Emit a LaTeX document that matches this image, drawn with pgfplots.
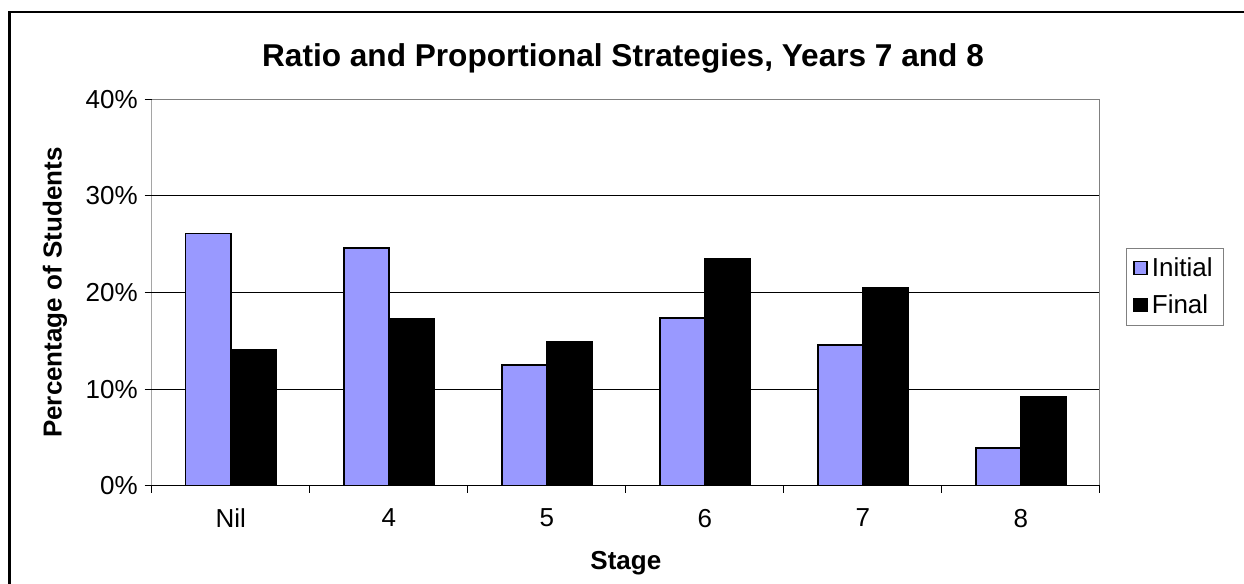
\documentclass[border=0pt]{standalone}
\usepackage{fontspec}
\setmainfont{Liberation Sans}
\usepackage{pgfplots}
\pgfplotsset{compat=1.18}

\definecolor{initialblue}{RGB}{153,153,255}
\definecolor{framegray}{RGB}{128,128,128}

% Stage reached by students, as a percentage of the cohort
\pgfplotstableread{
pos initial final
0   26.1    14.1
1   24.6    17.3
2   12.5    14.9
3   17.4    23.5
4   14.6    20.5
5    3.9     9.2
}\stagedata

\begin{document}
\begin{tikzpicture}
\useasboundingbox (0,0) rectangle (622pt,292pt);
% outer chart frame
\draw[line width=1.4pt] (4.75pt,0pt) -- (4.75pt,286pt) -- (622pt,286pt);
\node[font=\bfseries\fontsize{15.8}{18}\selectfont] at (311.5pt,263pt)
  {Ratio and Proportional Strategies, Years 7 and 8};
\begin{axis}[
  at={(75.85pt,49pt)}, anchor=south west,
  scale only axis, width=474.15pt, height=193.35pt,
  ymin=0, ymax=40, ytick={0,10,20,30,40},
  yticklabel={\pgfmathprintnumber{\tick}\%},
  xmin=-0.5, xmax=5.5,
  xtick={0,1,2,3,4,5}, xticklabels={Nil,4,5,6,7,8},
  major x tick style={draw=none},
  minor xtick={-0.5,0.5,1.5,2.5,3.5,4.5,5.5},
  tick align=outside, xtick pos=left, ytick pos=left,
  major tick length=3.5pt, minor tick length=3.5pt,
  tick style={black, line width=0.5pt},
  ymajorgrids, grid style={black, line width=0.5pt},
  axis line style={draw=none},
  ybar=0pt, bar width=0.285,
  /pgf/number format/assume math mode=true,
  ticklabel style={font=\fontsize{13}{15}\selectfont},
  xticklabel style={yshift=-4.5pt},
  xlabel={Stage}, ylabel={Percentage of Students},
  label style={font=\bfseries\fontsize{13}{15}\selectfont},
  xlabel style={at={(axis description cs:0.5,-0.2)}, anchor=center},
  ylabel style={at={(axis description cs:-0.102,0.5)}, anchor=center},
  legend style={at={(1.0274,0.6155)}, anchor=north west, draw=framegray,
    line width=0.5pt, font=\fontsize{13}{15}\selectfont,
    inner xsep=3.5pt, inner ysep=2.5pt, row sep=3.5pt},
  legend cell align=left,
  legend image code/.code={\draw[#1, line width=0.7pt] (0pt,-3pt) rectangle (6.5pt,3.5pt);},
]
\addplot[fill=initialblue, draw=black, line width=0.8pt] table[x=pos, y=initial] {\stagedata};
\addplot[fill=black, draw=black, line width=0.8pt] table[x=pos, y=final] {\stagedata};
\legend{Initial, Final}
\draw[framegray, line width=0.6pt] (rel axis cs:0,1) -- (rel axis cs:1,1) -- (rel axis cs:1,0);
\draw[black, line width=0.6pt] (rel axis cs:0,1) -- (rel axis cs:0,0) -- (rel axis cs:1,0);
\end{axis}
\end{tikzpicture}
\end{document}
